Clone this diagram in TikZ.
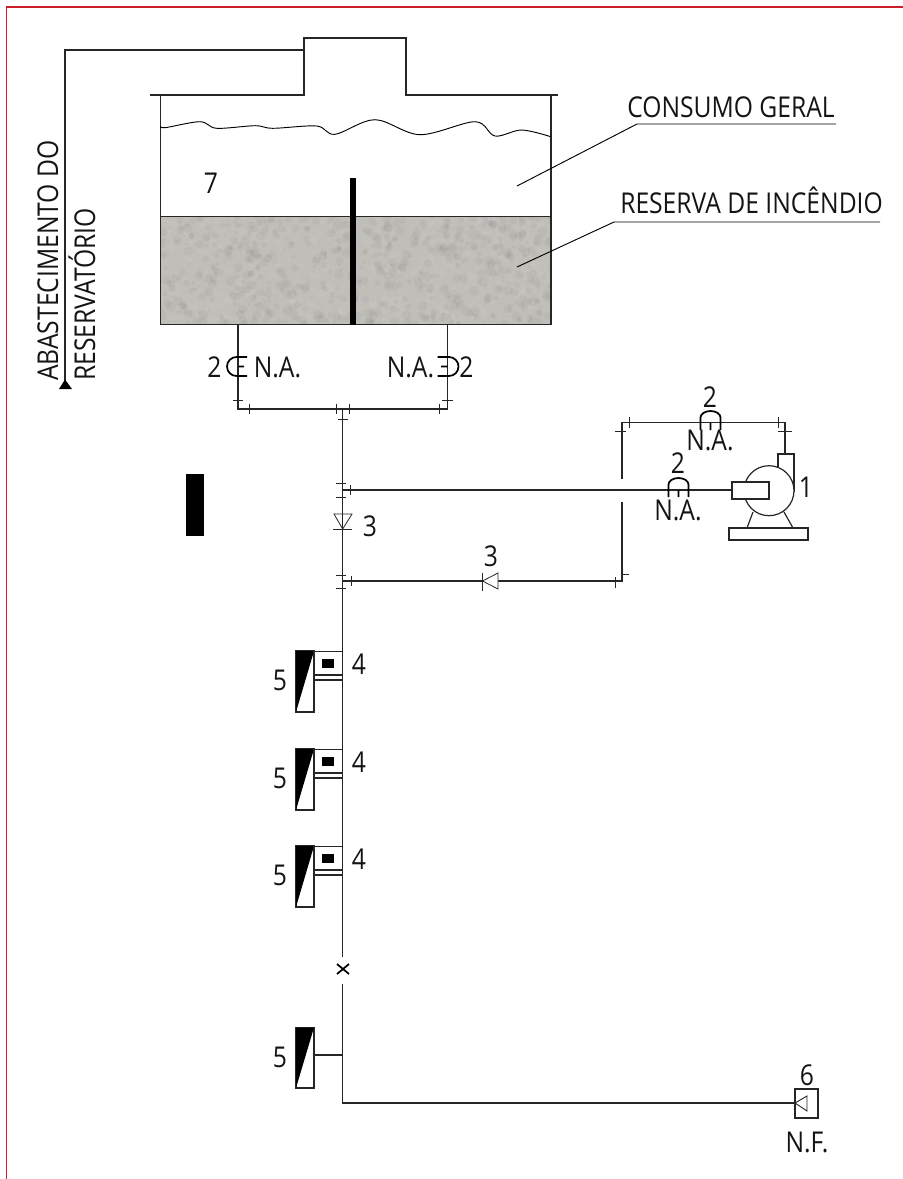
\documentclass[tikz,border=0pt]{standalone}
\usepackage{fontspec}
\setmainfont[FakeStretch=0.86]{Open Sans}
\begin{document}
\begin{tikzpicture}[x=0.75pt,y=-0.75pt,
  pipe/.style={draw=black!85,line width=0.9pt},
  tick/.style={draw=black!85,line width=0.6pt},
  thin leader/.style={draw=black,line width=0.7pt},
  arch/.style={draw=black,line width=1.3pt},
  lab/.style={font=\fontsize{21.5}{22}\selectfont,inner sep=0pt,text=black!92},
  txt/.style={font=\fontsize{21.5}{22}\selectfont,inner sep=0pt,text=black!92}]
\useasboundingbox (0,0) rectangle (903,1179);
\draw[draw={rgb,255:red,205;green,30;blue,45},line width=0.8pt] (903,7) -- (6.5,7) -- (6.5,1179);

% tank fill
\definecolor{tankgray}{RGB}{192,190,185}
\begin{scope}
\clip (160.5,216.5) rectangle (551,324.5);
\fill[tankgray] (160,216) rectangle (551,325);
\pgfmathsetseed{17}
\foreach \i in {1,...,1400}{
  \pgfmathsetmacro{\px}{160+391*rnd}\pgfmathsetmacro{\py}{216+109*rnd}\pgfmathsetmacro{\pr}{1+4*rnd}
  \pgfmathparse{rnd>0.5?"white":"black"}\edef\pc{\pgfmathresult}
  \fill[\pc,opacity=0.03] (\px,\py) circle[radius=\pr*0.75pt];
}
\end{scope}
% tank
\coordinate (rimL) at (150,95); \coordinate (rimR) at (558,95);
\draw[pipe] (rimL) -- (304,95) -- (304,38) -- (406,38) -- (406,95) -- (rimR);
\draw[pipe] (160.5,95) -- (160.5,324.5) -- (551,324.5) -- (551,95);
\draw[pipe] (160.5,216.5) -- (551,216.5);
\draw[line width=0.7pt] plot[smooth,tension=0.55] coordinates {(160.7,126) (165,127.7) (200,121.7) (216.7,128.3) (255,125.7) (273,128.3) (316.7,126) (335,134.3) (375,119.7) (420,134.7) (475,121.7) (495,136) (521.7,130) (550.7,136.7)};
\fill[black] (350,178) rectangle (355.5,324.5);
\node[lab] (n7) at (211,183) {7};

% leaders
\node[txt,anchor=base west] (consumo) at (627,117) {CONSUMO GERAL};
\node[txt,anchor=base west] (reserva) at (620,213) {RESERVA DE INCÊNDIO};
\draw[thin leader] (517,186) -- (637,124) -- (836,124);
\draw[thin leader] (517,267) -- (614,222) -- (880,222);

% supply
\coordinate (sup) at (304,50); \coordinate (supc) at (65,50); \coordinate (supe) at (65,384);
\draw[pipe] (sup) -- (supc) -- (supe);
\fill[black] (65,379.5) -- (72,389) -- (59,389) -- cycle;
\node[txt,rotate=90,anchor=base west] (ab) at (58,381) {ABASTECIMENTO DO};
\node[txt,rotate=90,anchor=base west] (re) at (95,381) {RESERVATÓRIO};

% outlets
\coordinate (oL) at (238,324.5); \coordinate (oR) at (447.7,324.5);
\coordinate (jL) at (238,409); \coordinate (jR) at (447.7,409); \coordinate (jC) at (342.7,409);
\coordinate (mainEnd) at (342.7,957); \coordinate (mainRes) at (342.7,984); \coordinate (mainCorner) at (342.7,1103);
\draw[pipe] (oL) -- (jL) -- (jR) -- (oR);
\draw[pipe] (jC) -- (mainEnd);
\draw[pipe] (mainRes) -- (mainCorner) -- (795,1103);
% ticks on collector
\draw[tick] (233,400.5)--(243,400.5) (249,404)--(249,414) (336,404)--(336,414) (349.5,404)--(349.5,414) (338,419)--(348,419) (439,404)--(439,414) (442,400.5)--(453,400.5);
% outlet valves
\draw[arch] (247,357) -- (236.5,357) arc[start angle=90,end angle=270,radius=9.5*0.75pt] -- (247,376) (238,366.5)--(244,366.5);
\draw[arch] (437.7,357) -- (449,357) arc[start angle=90,end angle=-90,radius=9.5*0.75pt] -- (437.7,376) (447.7,366.5)--(441,366.5);
\node[lab] (v2a) at (214.5,367) {2};
\node[lab] (na1) at (277.5,367) {N.A.};
\node[lab] (na2) at (410.5,367) {N.A.};
\node[lab] (v2b) at (466.5,367) {2};

% black bar
\fill[black] (186,474) rectangle (204,536);

% pump branch
\coordinate (b1) at (342.7,490); \coordinate (pumpin) at (732,490);
\draw[pipe] (b1) -- (pumpin);
\draw[tick] (336,483)--(346,483) (336,497)--(346,497) (350.7,485)--(350.7,495);
% check valve vertical
\draw[pipe,line width=0.6pt] (334,514) -- (352,514) -- (342.7,529) -- cycle;
\draw[tick] (333,529.5)--(352,529.5);
\node[lab] (n3a) at (370,526) {3};
% return branch
\coordinate (b2) at (342.7,581); \coordinate (c1) at (622,581); \coordinate (c2) at (622,502);
\coordinate (c3) at (622,479); \coordinate (c4) at (622,422.7); \coordinate (c5) at (785,422.7); \coordinate (c6) at (785,454);
\draw[pipe] (b2) -- (c1) -- (c2);
\draw[pipe] (c3) -- (c4) -- (c5) -- (c6);
\draw[tick] (336,575)--(346,575) (336,588)--(346,588) (351,576)--(351,586);
\draw[tick] (615,431)--(626,431) (629,417)--(629,428) (778,417)--(778,428) (778,431)--(792,431) (622,574)--(629,574) (615,577)--(615,588);
\fill[white] (482.5,581) -- (498,573) -- (498,589) -- cycle;
\draw[tick] (482.5,581) -- (498,573) -- (498,589) -- cycle;
\draw[tick] (482.5,572.5)--(482.5,591);
\node[lab] (n3b) at (491,556) {3};

% pump
\draw[pipe,fill=white] (778,467) -- (778,454) -- (794,454) -- (794,492);
\draw[pipe,fill=white] (769,490.7) circle[radius=25*0.75pt];
\draw[pipe,fill=white] (732,482) rectangle (769,499);
\draw[pipe] (753,512) -- (747,528) (784,512) -- (793,528);
\draw[pipe,fill=white] (729,528) rectangle (808,540);
\node[lab] (n1) at (806,487) {1};
% pump valves
\draw[arch] (668.5,497) -- (668.5,484.5) arc[start angle=180,end angle=0,x radius=10*0.75pt,y radius=6.5*0.75pt] -- (688.5,497) (678.5,490)--(678.5,497);
\node[lab] (n2a) at (678,463) {2};
\node[lab] (na3) at (678,510) {N.A.};
\draw[arch] (700.5,430) -- (700.5,417.5) arc[start angle=180,end angle=0,x radius=10*0.75pt,y radius=6.5*0.75pt] -- (720.5,430) (710.5,423)--(710.5,430);
\node[lab] (n2b) at (710,397) {2};
\node[lab] (na4) at (710,440) {N.A.};

% hose units
\foreach \dy/\nm in {0/a,98/b,195/c}{
\begin{scope}[yshift=-\dy*0.75pt]
\draw[pipe,fill=white] (296,651) rectangle (314,712);
\fill[black] (296,651) -- (314,651) -- (296,712) -- cycle;
\draw[pipe,fill=white] (314,651.7) rectangle (342.7,675);
\fill[black] (322,659) rectangle (334,668);
\draw[pipe] (314,680) -- (342.7,680);
\node[lab] (five\nm) at (280,680) {5};
\node[lab] (four\nm) at (359,664) {4};
\end{scope}}

% last unit
\draw[pipe,fill=white] (296,1027.5) rectangle (314,1088);
\fill[black] (296,1027.5) -- (314,1027.5) -- (296,1088) -- cycle;
\coordinate (u4) at (314,1055); \coordinate (m4) at (342.7,1055);
\draw[pipe] (u4) -- (m4);
\node[lab] (fived) at (280,1057) {5};
% x mark
\draw[line width=1.3pt] (337,964) -- (349,974) (337,974) -- (349,964);

% 6
\draw[pipe] (795,1089) rectangle (818,1118);
\draw[pipe,line width=0.7pt] (795,1103) -- (807,1096) -- (807,1111) -- cycle;
\node[lab] (n6) at (807,1075) {6};
\node[lab] (nf) at (807,1142) {N.F.};
\end{tikzpicture}
\end{document}
